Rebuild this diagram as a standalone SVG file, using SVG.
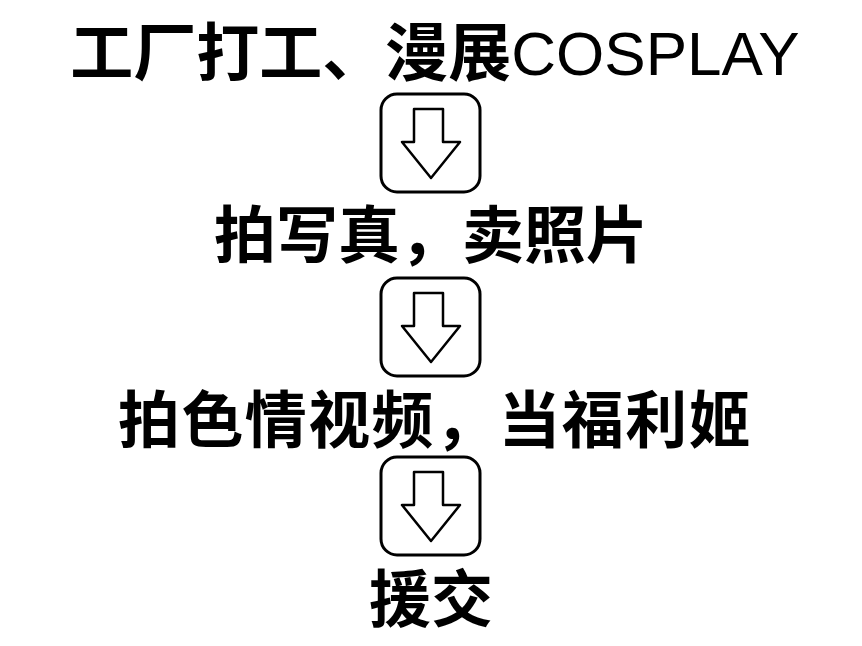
<svg xmlns="http://www.w3.org/2000/svg" xmlns:xlink="http://www.w3.org/1999/xlink" width="862" height="646" viewBox="0 0 862 646">
<style>
.t{font-family:"Noto Sans CJK SC","Noto Sans",sans-serif;font-weight:bold;font-size:62px;fill:#000;text-anchor:middle}
.lat{font-family:"Liberation Sans",Arial,sans-serif;font-weight:normal}
.box{fill:#fff;stroke:#000;stroke-width:3}
.arr{fill:#fff;stroke:#000;stroke-width:2.5;stroke-linejoin:round}
</style>
<defs>
<g id="downArrow">
<rect class="box" x="0" y="0" width="99" height="98" rx="16" ry="16"/>
<path class="arr" d="M33 15 H62 V48 H79 L50 84 L21 48 H33 Z"/>
</g>
</defs>
<rect width="862" height="646" fill="#fff"/>
<g id="node1"><text class="t" x="435" y="75"><tspan font-size="63">工厂打工、漫展</tspan><tspan class="lat">COSPLAY</tspan></text></g>
<g id="node2"><text class="t" x="431" y="258">拍写真，卖照片</text></g>
<g id="node3"><text class="t" x="435" y="443" letter-spacing="1.4">拍色情视频，当福利姬</text></g>
<g id="node4"><text class="t" x="431" y="622">援交</text></g>
<g id="connectors">
<use xlink:href="#downArrow" x="381" y="94"/>
<use xlink:href="#downArrow" x="381" y="278"/>
<use xlink:href="#downArrow" x="381" y="457"/>
</g>
</svg>
